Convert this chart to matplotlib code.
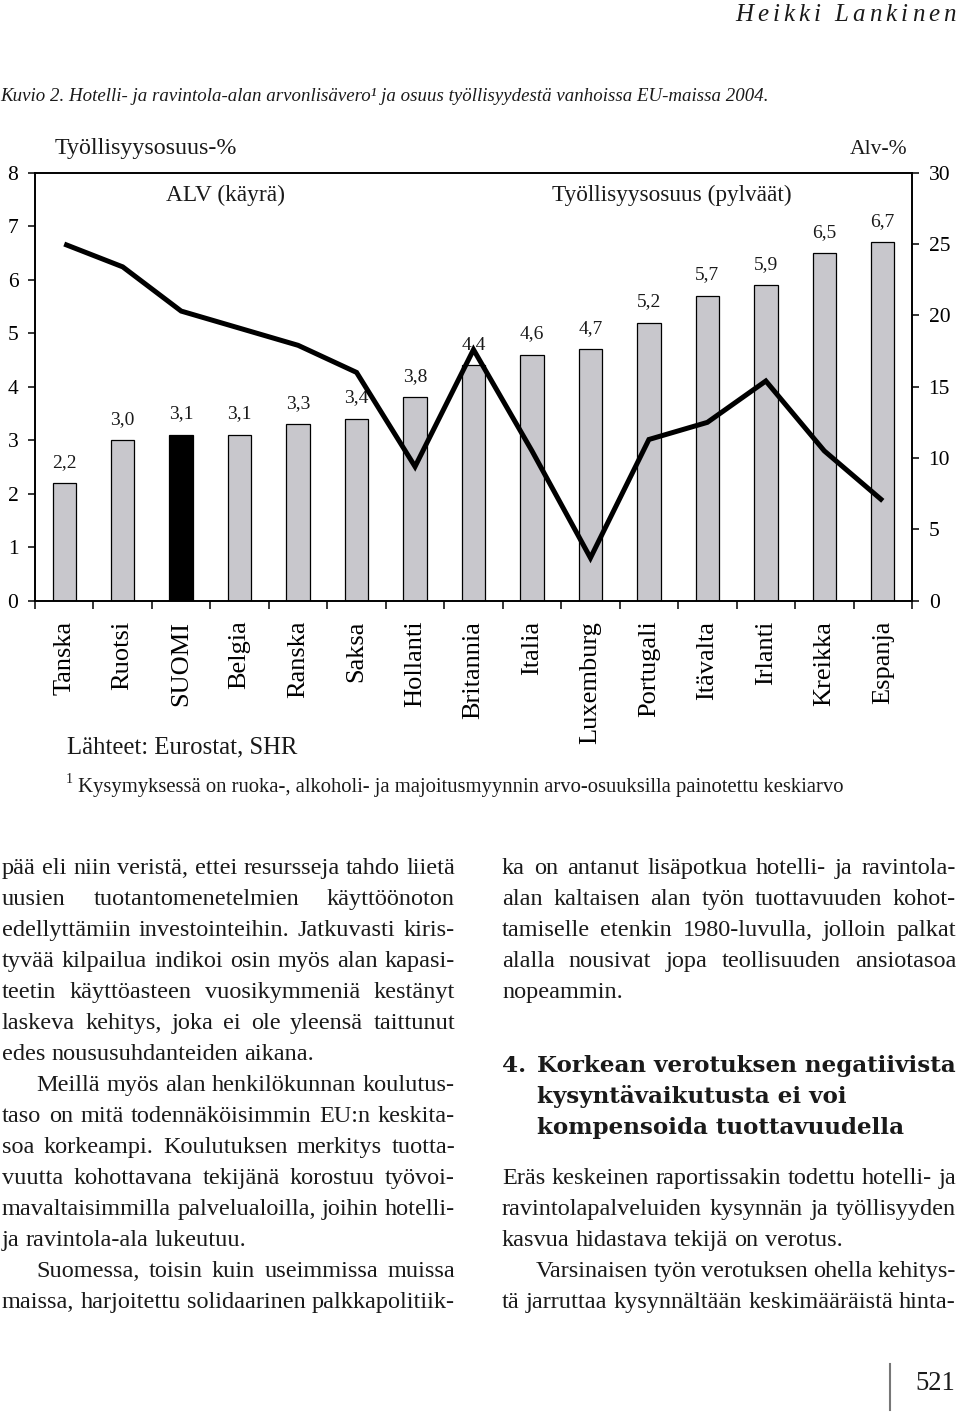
import numpy as np
import matplotlib
matplotlib.use('Agg')
import matplotlib.pyplot as plt

# --- data ---
maat = ['Tanska', 'Ruotsi', 'SUOMI', 'Belgia', 'Ranska', 'Saksa', 'Hollanti',
        'Britannia', 'Italia', 'Luxemburg', 'Portugali', 'Itävalta', 'Irlanti',
        'Kreikka', 'Espanja']
tyollisyys = [2.2, 3.0, 3.1, 3.1, 3.3, 3.4, 3.8, 4.4, 4.6, 4.7, 5.2, 5.7, 5.9, 6.5, 6.7]
alv = [25.0, 23.4, 20.3, 19.1, 17.9, 16.0, 9.4, 17.6, 10.5, 3.0, 11.3, 12.5, 15.4, 10.5, 7.0]
korostus = 'SUOMI'
vasen_ticks = [0, 1, 2, 3, 4, 5, 6, 7, 8]
oikea_ticks = [0, 5, 10, 15, 20, 25, 30]

otsikko = 'Kuvio 2. Hotelli- ja ravintola-alan arvonlisävero¹ ja osuus työllisyydestä vanhoissa EU-maissa 2004.'
lahteet = 'Lähteet: Eurostat, SHR'
alaviite = 'Kysymyksessä on ruoka-, alkoholi- ja majoitusmyynnin arvo-osuuksilla painotettu keskiarvo'

# paragraphs: (lines, indent first line, justify last line)
vasen = [
    (['pää eli niin veristä, ettei resursseja tahdo liietä',
      'uusien tuotantomenetelmien käyttöönoton',
      'edellyttämiin investointeihin. Jatkuvasti kiris-',
      'tyvää kilpailua indikoi osin myös alan kapasi-',
      'teetin käyttöasteen vuosikymmeniä kestänyt',
      'laskeva kehitys, joka ei ole yleensä taittunut',
      'edes noususuhdanteiden aikana.'], False, False),
    (['Meillä myös alan henkilökunnan koulutus-',
      'taso on mitä todennäköisimmin EU:n keskita-',
      'soa korkeampi. Koulutuksen merkitys tuotta-',
      'vuutta kohottavana tekijänä korostuu työvoi-',
      'mavaltaisimmilla palvelualoilla, joihin hotelli-',
      'ja ravintola-ala lukeutuu.'], True, False),
    (['Suomessa, toisin kuin useimmissa muissa',
      'maissa, harjoitettu solidaarinen palkkapolitiik-'], True, True),
]
oikea1 = [
    (['ka on antanut lisäpotkua hotelli- ja ravintola-',
      'alan kaltaisen alan työn tuottavuuden kohot-',
      'tamiselle etenkin 1980-luvulla, jolloin palkat',
      'alalla nousivat jopa teollisuuden ansiotasoa',
      'nopeammin.'], False, False),
]
otsikko4 = ['Korkean verotuksen negatiivista', 'kysyntävaikutusta ei voi',
            'kompensoida tuottavuudella']
oikea2 = [
    (['Eräs keskeinen raportissakin todettu hotelli- ja',
      'ravintolapalveluiden kysynnän ja työllisyyden',
      'kasvua hidastava tekijä on verotus.'], False, False),
    (['Varsinaisen työn verotuksen ohella kehitys-',
      'tä jarruttaa kysynnältään keskimääräistä hinta-'], True, True),
]

TXT = '#1a1a1a'
plt.rcParams['font.family'] = ['Liberation Serif', 'DejaVu Serif']
plt.rcParams['text.color'] = TXT

fig = plt.figure(figsize=(9.6, 14.13), dpi=100)

# --- chart ---
W, H = 960.0, 1413.0
L, R, T, B = 35, 912, 172.7, 600.7
ax = fig.add_axes([L / W, 1 - B / H, (R - L) / W, (B - T) / H])
x = np.arange(len(maat))
varit = ['black' if m == korostus else '#c8c7cc' for m in maat]
ax.bar(x, tyollisyys, width=0.4, color=varit, edgecolor='black', linewidth=0.9, zorder=2)
ax.set_xlim(-0.5, len(maat) - 0.5)
ax.set_ylim(0, 8)
ax.set_yticks(vasen_ticks)
ax.set_xticks(np.arange(-0.5, len(maat)), minor=False)
ax.set_xticklabels([])
ax.set_xticks(x, minor=True)
ax.set_xticklabels(maat, minor=True, rotation=90, fontsize=19, va='top', ha='center')
ax.tick_params(axis='x', which='major', direction='out', length=6, width=1.1)
ax.tick_params(axis='x', which='minor', length=0, pad=14.4)
ax.tick_params(axis='y', direction='out', length=5, width=1.1, labelsize=15.5, pad=7)
for s in ax.spines.values():
    s.set_linewidth(1.2)
for xi, v in zip(x, tyollisyys):
    ax.annotate(f'{v:.1f}'.replace('.', ','), (xi, v), xytext=(0, 15),
                textcoords='offset points', ha='center', va='center', fontsize=14)

ax2 = ax.twinx()
ax2.plot(x, alv, color='black', linewidth=3.6, solid_joinstyle='miter',
         solid_capstyle='butt', zorder=3)
ax2.set_ylim(0, 30)
ax2.set_yticks(oikea_ticks)
ax2.tick_params(axis='y', direction='out', length=5, width=1.1, labelsize=15.5, pad=7)
for s in ax2.spines.values():
    s.set_linewidth(1.2)

# --- page overlay in pixel coordinates ---
pg = fig.add_axes([0, 0, 1, 1], zorder=5)
pg.set_xlim(0, W)
pg.set_ylim(H, 0)
pg.axis('off')
r = fig.canvas.get_renderer()


def leveys(t):
    return t.get_window_extent(r).width


def sovita(x0, y, s, w, **kw):
    t = pg.text(x0, y, s, fontsize=12, va='baseline', **kw)
    t.set_fontsize(12 * w / leveys(t))
    return t


def rivi(x0, x1, y, s, size, tasaa=True, **kw):
    sanat = s.split(' ')
    tt = [pg.text(0, y, w, fontsize=size, va='baseline', **kw) for w in sanat]
    ws = [leveys(t) for t in tt]
    px = size * 100 / 72
    n = len(tt)
    if tasaa and n > 1:
        vali = (x1 - x0 - sum(ws)) / (n - 1)
        if vali < 0.12 * px:
            # too tight: shrink this line a little
            k = (x1 - x0 - 0.12 * px * (n - 1)) / sum(ws)
            for t in tt:
                t.set_fontsize(size * k)
            ws = [w * k for w in ws]
            vali = (x1 - x0 - sum(ws)) / (n - 1)
    else:
        vali = 0.25 * px
    xx = x0
    for t, w in zip(tt, ws):
        t.set_x(xx)
        xx += w + vali


def harva(x1, y, s, size, w, **kw):
    tt, ws = [], []
    for c in s:
        t = pg.text(0, y, c, fontsize=size, va='baseline', **kw)
        tt.append(t)
        ws.append(0.25 * size * 100 / 72 if c == ' ' else leveys(t))
    vali = (w - sum(ws)) / (len(s) - 1)
    xx = x1 - w
    for t, cw in zip(tt, ws):
        t.set_x(xx)
        xx += cw + vali


def palsta(kappaleet, x0, x1, y0, step, size=17.5, sisennys=34):
    y = y0
    for rivit, sis, viim in kappaleet:
        for i, s in enumerate(rivit):
            xs = x0 + (sisennys if (sis and i == 0) else 0)
            last = i == len(rivit) - 1
            rivi(xs, x1, y, s, size, tasaa=(not last) or viim)
            y += step
    return y


harva(956, 21, 'Heikki Lankinen', 18, 221, style='italic')
sovita(0, 101, otsikko, 765, style='italic')

sovita(55, 154, 'Työllisyysosuus-%', 183)
sovita(850, 154, 'Alv-%', 58)
t = sovita(225, 201.5, 'ALV (käyrä)', 119)
t.set_ha('center')
t = sovita(672, 201.5, 'Työllisyysosuus (pylväät)', 240)
t.set_ha('center')

sovita(66.7, 753, lahteet, 230)
pg.text(66, 783, '1', fontsize=10, va='baseline')
sovita(78, 792, alaviite, 768)

palsta(vasen, 2, 455, 874, 31.0)
palsta(oikea1, 502, 956, 874, 31.0)

t = pg.text(502, 1072, '4.', fontsize=12, va='baseline', family='DejaVu Serif', weight='bold')
h = sovita(536.7, 1072, otsikko4[0], 419, family='DejaVu Serif', weight='bold')
hs = h.get_fontsize()
t.set_fontsize(hs)
for i, s in enumerate(otsikko4[1:]):
    pg.text(536.7, 1072 + 31 * (i + 1), s, fontsize=hs, va='baseline',
            family='DejaVu Serif', weight='bold')

palsta(oikea2, 502, 956, 1184, 31.0)

pg.plot([890, 890], [1364, 1410], color='#777777', linewidth=1.5)
sovita(915, 1390, '521', 40)

fig.savefig('out.png', dpi=100)
